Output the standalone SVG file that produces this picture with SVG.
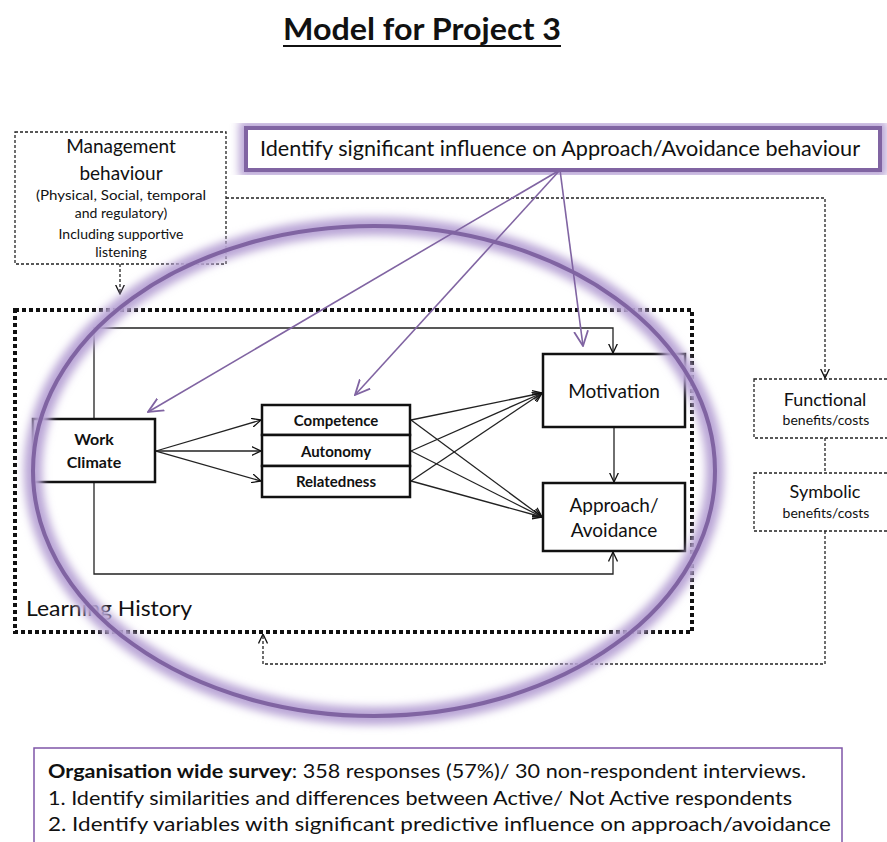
<svg xmlns="http://www.w3.org/2000/svg" width="887" height="842" viewBox="0 0 887 842">
  <defs>
    <style>
      .t { font-family: Lato, "Open Sans", "Liberation Sans", sans-serif; fill: #111; }
      .b { font-weight: bold; }
      .box { fill: #fff; stroke: #111; stroke-width: 2.5; }
      .dash { fill: none; stroke: #222; stroke-width: 1.3; stroke-dasharray: 3 2; }
      .dashbox { fill: #fff; stroke: #222; stroke-width: 1.3; stroke-dasharray: 3 2; }
      .line { fill: none; stroke: #222; stroke-width: 1.3; }
      .pline { fill: none; stroke: #8064A2; stroke-width: 1.6; }
    </style>
    <marker id="arr" viewBox="0 0 10 10" refX="9.5" refY="5" markerWidth="10" markerHeight="10" markerUnits="userSpaceOnUse" orient="auto">
      <path d="M0,0.5 L9.5,5 L0,9.5" fill="none" stroke="#111" stroke-width="1.3"/>
    </marker>
    <marker id="parr" viewBox="0 0 16 16" refX="15" refY="8" markerWidth="16" markerHeight="16" markerUnits="userSpaceOnUse" orient="auto">
      <path d="M0,1 L15,8 L0,15" fill="none" stroke="#8064A2" stroke-width="1.8"/>
    </marker>
    <filter id="glow" x="-10%" y="-10%" width="120%" height="120%">
      <feGaussianBlur stdDeviation="4"/>
    </filter>
  </defs>

  <rect width="887" height="842" fill="#fff"/>

  <!-- Title -->
  <g id="title">
    <text class="t b" x="422" y="40" font-size="30" text-anchor="middle" textLength="278" lengthAdjust="spacingAndGlyphs">Model for Project 3</text>
    <line x1="283" y1="46" x2="561" y2="46" stroke="#111" stroke-width="2"/>
  </g>

  <!-- Learning history frame -->
  <g id="learning-history">
    <rect x="15" y="310" width="677" height="322" fill="none" stroke="#111" stroke-width="4" stroke-dasharray="4 3"/>
    <text class="t" x="26" y="616" font-size="21" textLength="166" lengthAdjust="spacingAndGlyphs">Learning History</text>
  </g>

  <!-- Connectors -->
  <g id="connectors">
    <!-- management / benefits loop (dashed) -->
    <path class="dash" d="M120,264 V294" marker-end="url(#arr)"/>
    <path class="dash" d="M226,198 H825 V378" marker-end="url(#arr)"/>
    <path class="dash" d="M825,438 V473"/>
    <path class="dash" d="M825,531 V664 H263 V634" marker-end="url(#arr)"/>

    <!-- work climate direct paths -->
    <path class="line" d="M94,419 V328 H613 V353" marker-end="url(#arr)"/>
    <path class="line" d="M94,482 V574 H613 V552" marker-end="url(#arr)"/>

    <!-- work climate to needs -->
    <path class="line" d="M156,451 L261,420" marker-end="url(#arr)"/>
    <path class="line" d="M156,451 L261,451" marker-end="url(#arr)"/>
    <path class="line" d="M156,451 L261,481" marker-end="url(#arr)"/>

    <!-- needs to motivation / approach -->
    <path class="line" d="M411,420 L542,393" marker-end="url(#arr)"/>
    <path class="line" d="M411,451 L542,393" marker-end="url(#arr)"/>
    <path class="line" d="M411,481 L542,393" marker-end="url(#arr)"/>
    <path class="line" d="M411,420 L542,517" marker-end="url(#arr)"/>
    <path class="line" d="M411,451 L542,517" marker-end="url(#arr)"/>
    <path class="line" d="M411,481 L542,517" marker-end="url(#arr)"/>

    <!-- motivation to approach -->
    <path class="line" d="M614,427 V482" marker-end="url(#arr)"/>
  </g>

  <!-- Management behaviour -->
  <g id="management">
    <rect class="dashbox" x="15" y="132" width="211" height="132"/>
    <text class="t" x="121" y="153" font-size="19" text-anchor="middle">Management</text>
    <text class="t" x="121" y="180" font-size="19" text-anchor="middle">behaviour</text>
    <text class="t" x="121" y="200" font-size="14" text-anchor="middle" textLength="170" lengthAdjust="spacingAndGlyphs">(Physical, Social, temporal</text>
    <text class="t" x="121" y="218" font-size="14" text-anchor="middle">and regulatory)</text>
    <text class="t" x="121" y="239" font-size="14" text-anchor="middle">Including supportive</text>
    <text class="t" x="121" y="257" font-size="14" text-anchor="middle">listening</text>
  </g>

  <!-- Functional -->
  <g id="functional">
    <rect class="dashbox" x="754" y="379" width="140" height="59"/>
    <text class="t" x="825" y="406" font-size="18" text-anchor="middle">Functional</text>
    <text class="t" x="826" y="425" font-size="14" text-anchor="middle">benefits/costs</text>
  </g>

  <!-- Symbolic -->
  <g id="symbolic">
    <rect class="dashbox" x="754" y="473" width="140" height="58"/>
    <text class="t" x="825" y="498" font-size="18" text-anchor="middle">Symbolic</text>
    <text class="t" x="826" y="518" font-size="14" text-anchor="middle">benefits/costs</text>
  </g>

  <!-- Work climate -->
  <g id="work-climate">
    <rect class="box" x="33" y="419" width="122" height="63"/>
    <text class="t b" x="94" y="445" font-size="16" text-anchor="middle">Work</text>
    <text class="t b" x="94" y="468" font-size="16" text-anchor="middle">Climate</text>
  </g>

  <!-- Needs -->
  <g id="competence">
    <rect class="box" x="262" y="405" width="148" height="30"/>
    <text class="t b" x="336" y="426" font-size="15" text-anchor="middle">Competence</text>
  </g>
  <g id="autonomy">
    <rect class="box" x="262" y="435" width="148" height="31"/>
    <text class="t b" x="336" y="457" font-size="15" text-anchor="middle">Autonomy</text>
  </g>
  <g id="relatedness">
    <rect class="box" x="262" y="466" width="148" height="31"/>
    <text class="t b" x="336" y="487" font-size="15" text-anchor="middle">Relatedness</text>
  </g>

  <!-- Motivation -->
  <g id="motivation">
    <rect class="box" x="543" y="354" width="142" height="73"/>
    <text class="t" x="614" y="398" font-size="19" text-anchor="middle">Motivation</text>
  </g>

  <!-- Approach / Avoidance -->
  <g id="approach-avoidance">
    <rect class="box" x="543" y="483" width="142" height="68"/>
    <text class="t" x="614" y="512" font-size="19" text-anchor="middle">Approach/</text>
    <text class="t" x="614" y="537" font-size="19" text-anchor="middle">Avoidance</text>
  </g>

  <!-- Highlight ellipse -->
  <g id="focus-ellipse">
    <ellipse cx="374" cy="471" rx="341" ry="245" fill="none" stroke="#B9A5D6" stroke-width="18" filter="url(#glow)"/>
    <ellipse cx="374" cy="471" rx="341" ry="245" fill="none" stroke="#8064A2" stroke-width="4"/>
  </g>

  <!-- Influence box -->
  <g id="influence">
    <rect x="246" y="128" width="634" height="42" fill="none" stroke="#B9A5D6" stroke-width="14" filter="url(#glow)"/>
    <rect x="246" y="128" width="634" height="42" fill="#fff" stroke="#8064A2" stroke-width="4"/>
    <text class="t" x="260" y="156" font-size="21" textLength="600" lengthAdjust="spacingAndGlyphs">Identify significant influence on Approach/Avoidance behaviour</text>
  </g>

  <!-- Influence arrows -->
  <g id="influence-arrows">
    <path class="pline" d="M560,170 L148,412" marker-end="url(#parr)"/>
    <path class="pline" d="M560,170 L355,395" marker-end="url(#parr)"/>
    <path class="pline" d="M560,170 L583,346" marker-end="url(#parr)"/>
  </g>

  <!-- Survey summary -->
  <g id="survey">
    <rect x="34" y="748" width="808" height="100" fill="#fff" stroke="#7F56A8" stroke-width="1.5"/>
    <text class="t" x="48" y="778" font-size="19" textLength="758" lengthAdjust="spacingAndGlyphs"><tspan class="b">Organisation wide survey</tspan>: 358 responses (57%)/ 30 non-respondent interviews.</text>
    <text class="t" x="48" y="805" font-size="19" textLength="744" lengthAdjust="spacingAndGlyphs">1. Identify similarities and differences between  Active/ Not Active respondents</text>
    <text class="t" x="48" y="831" font-size="19" textLength="783" lengthAdjust="spacingAndGlyphs">2. Identify variables with significant predictive influence on approach/avoidance</text>
  </g>
</svg>
